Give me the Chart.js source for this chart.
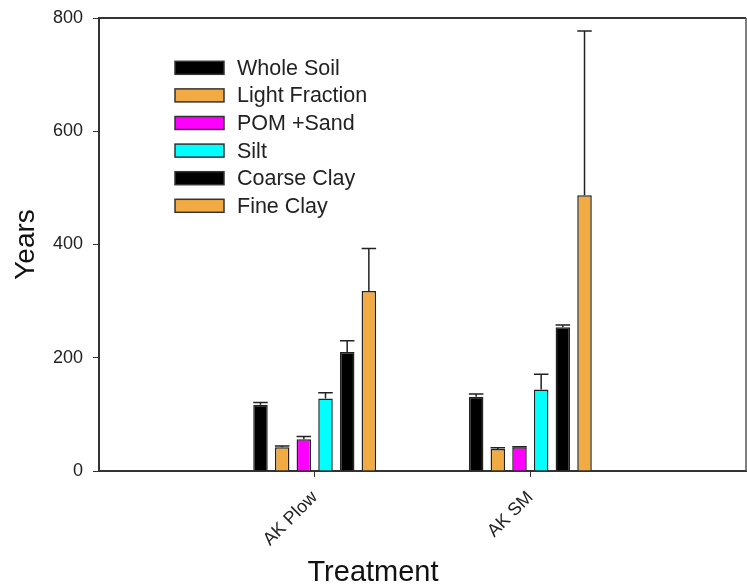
<!DOCTYPE html>
<html>
<head>
<meta charset="utf-8">
<script src="https://cdn.jsdelivr.net/npm/chart.js@4.4.1/dist/chart.umd.min.js"></script>
<style>
  body { margin: 0; background: #fff; }
  #wrap { width: 747px; height: 587px; }
</style>
</head>
<body>
<div id="wrap"><canvas id="myChart" width="747" height="587"></canvas></div>
<script>
// data
const categories = ['AK Plow', 'AK SM'];
const seriesNames = ['Whole Soil', 'Light Fraction', 'POM +Sand', 'Silt', 'Coarse Clay', 'Fine Clay'];
const wholeSoil = [117, 131];
const lightFraction = [42, 39];
const pomSand = [56, 42];
const silt = [128, 144];
const coarseClay = [210, 254];
const fineClay = [318, 487];
const wholeSoilErr = [4, 5];
const lightFractionErr = [2, 2];
const pomSandErr = [5, 1];
const siltErr = [10, 27];
const coarseClayErr = [20, 4];
const fineClayErr = [75, 290];
const yTicks = [0, 200, 400, 600, 800];

const seriesColors = ['#000000', '#F2AA42', '#FF00FF', '#00FFFF', '#000000', '#F2AA42'];
const values = [wholeSoil, lightFraction, pomSand, silt, coarseClay, fineClay];
const errors = [wholeSoilErr, lightFractionErr, pomSandErr, siltErr, coarseClayErr, fineClayErr];

// empty slot at each end so the two groups sit at 1/3 and 2/3 of the axis
const xLabels = ['', ...categories, ''];
const pad = arr => [null, ...arr, null];

Chart.defaults.font.family = "'Liberation Sans', Arial, sans-serif";
Chart.defaults.color = '#222';

// upward error bars
const errorBars = {
    id: 'errorBars',
    afterDatasetsDraw(chart) {
        const ctx = chart.ctx;
        const yScale = chart.scales.y;
        ctx.save();
        ctx.strokeStyle = '#222';
        ctx.lineWidth = 1.5;
        chart.data.datasets.forEach((ds, i) => {
            const meta = chart.getDatasetMeta(i);
            meta.data.forEach((bar, j) => {
                const v = ds.data[j];
                const e = ds.errors[j];
                if (v == null || e == null) return;
                const yTop = yScale.getPixelForValue(v + e);
                const half = bar.width / 2;
                ctx.beginPath();
                ctx.moveTo(bar.x, bar.y);
                ctx.lineTo(bar.x, yTop);
                ctx.moveTo(bar.x - half, yTop);
                ctx.lineTo(bar.x + half, yTop);
                ctx.stroke();
            });
        });
        ctx.restore();
    }
};

// top and right frame lines
const frame = {
    id: 'frame',
    afterDraw(chart) {
        const {ctx, chartArea: a} = chart;
        ctx.save();
        ctx.strokeStyle = '#333';
        ctx.lineWidth = 2;
        ctx.beginPath();
        ctx.moveTo(a.left, a.top);
        ctx.lineTo(a.right, a.top);
        ctx.stroke();
        ctx.strokeStyle = '#555';
        ctx.lineWidth = 1.5;
        ctx.beginPath();
        ctx.moveTo(a.right, a.top);
        ctx.lineTo(a.right, a.bottom);
        ctx.stroke();
        ctx.restore();
    }
};

// legend box inside the plot
const insideLegend = {
    id: 'insideLegend',
    afterDraw(chart) {
        const ctx = chart.ctx;
        ctx.save();
        ctx.font = "21.5px 'Liberation Sans', Arial, sans-serif";
        ctx.textBaseline = 'middle';
        ctx.textAlign = 'left';
        chart.data.datasets.forEach((ds, i) => {
            const cy = 67.8 + i * 27.6;
            ctx.fillStyle = ds.backgroundColor;
            ctx.fillRect(175, cy - 6.5, 49, 13);
            ctx.strokeStyle = '#333';
            ctx.lineWidth = 1.5;
            ctx.strokeRect(175, cy - 6.5, 49, 13);
            ctx.fillStyle = '#222';
            ctx.fillText(ds.label, 237, cy + 1);
        });
        ctx.restore();
    }
};

const datasets = seriesNames.map((name, i) => ({
    label: name,
    data: pad(values[i]),
    errors: pad(errors[i]),
    backgroundColor: seriesColors[i],
    borderColor: '#222',
    borderWidth: 1.5,
    categoryPercentage: 0.603,
    barPercentage: 0.67
}));

const ctx = document.getElementById('myChart').getContext('2d');
new Chart(ctx, {
    type: 'bar',
    data: { labels: xLabels, datasets: datasets },
    options: {
        responsive: false,
        animation: false,
        layout: { padding: { top: 18, right: 1, left: 0, bottom: 0 } },
        plugins: {
            legend: { display: false },
            tooltip: { enabled: false },
            title: {
                display: true,
                position: 'bottom',
                text: 'Treatment',
                font: { size: 29, weight: 'normal', lineHeight: 1 },
                color: '#111',
                padding: { top: 0, bottom: 0 }
            }
        },
        scales: {
            x: {
                offset: false,
                afterFit: s => { s.height = 87; s.paddingLeft = 0; s.paddingRight = 0; },
                grid: {
                    offset: false,
                    drawOnChartArea: false,
                    tickLength: 6,
                    color: c => (c.tick && c.tick.label) ? '#333' : 'rgba(0,0,0,0)'
                },
                border: { display: true, color: '#333', width: 2 },
                ticks: {
                    autoSkip: false,
                    minRotation: 45,
                    maxRotation: 45,
                    padding: 10,
                    font: { size: 18 },
                    color: '#222'
                }
            },
            y: {
                min: 0,
                max: 800,
                afterFit: s => { s.width = 99; s.paddingTop = 0; s.paddingBottom = 0; },
                afterBuildTicks: s => { s.ticks = yTicks.map(v => ({ value: v })); },
                grid: { drawOnChartArea: false, tickLength: 6, color: '#333' },
                border: { display: true, color: '#333', width: 2 },
                ticks: { padding: 10, font: { size: 18 }, color: '#222' },
                title: {
                    display: true,
                    text: 'Years',
                    font: { size: 28, lineHeight: 1 },
                    color: '#111',
                    padding: { top: 12, bottom: 0 }
                }
            }
        }
    },
    plugins: [errorBars, frame, insideLegend]
});
</script>
</body>
</html>
